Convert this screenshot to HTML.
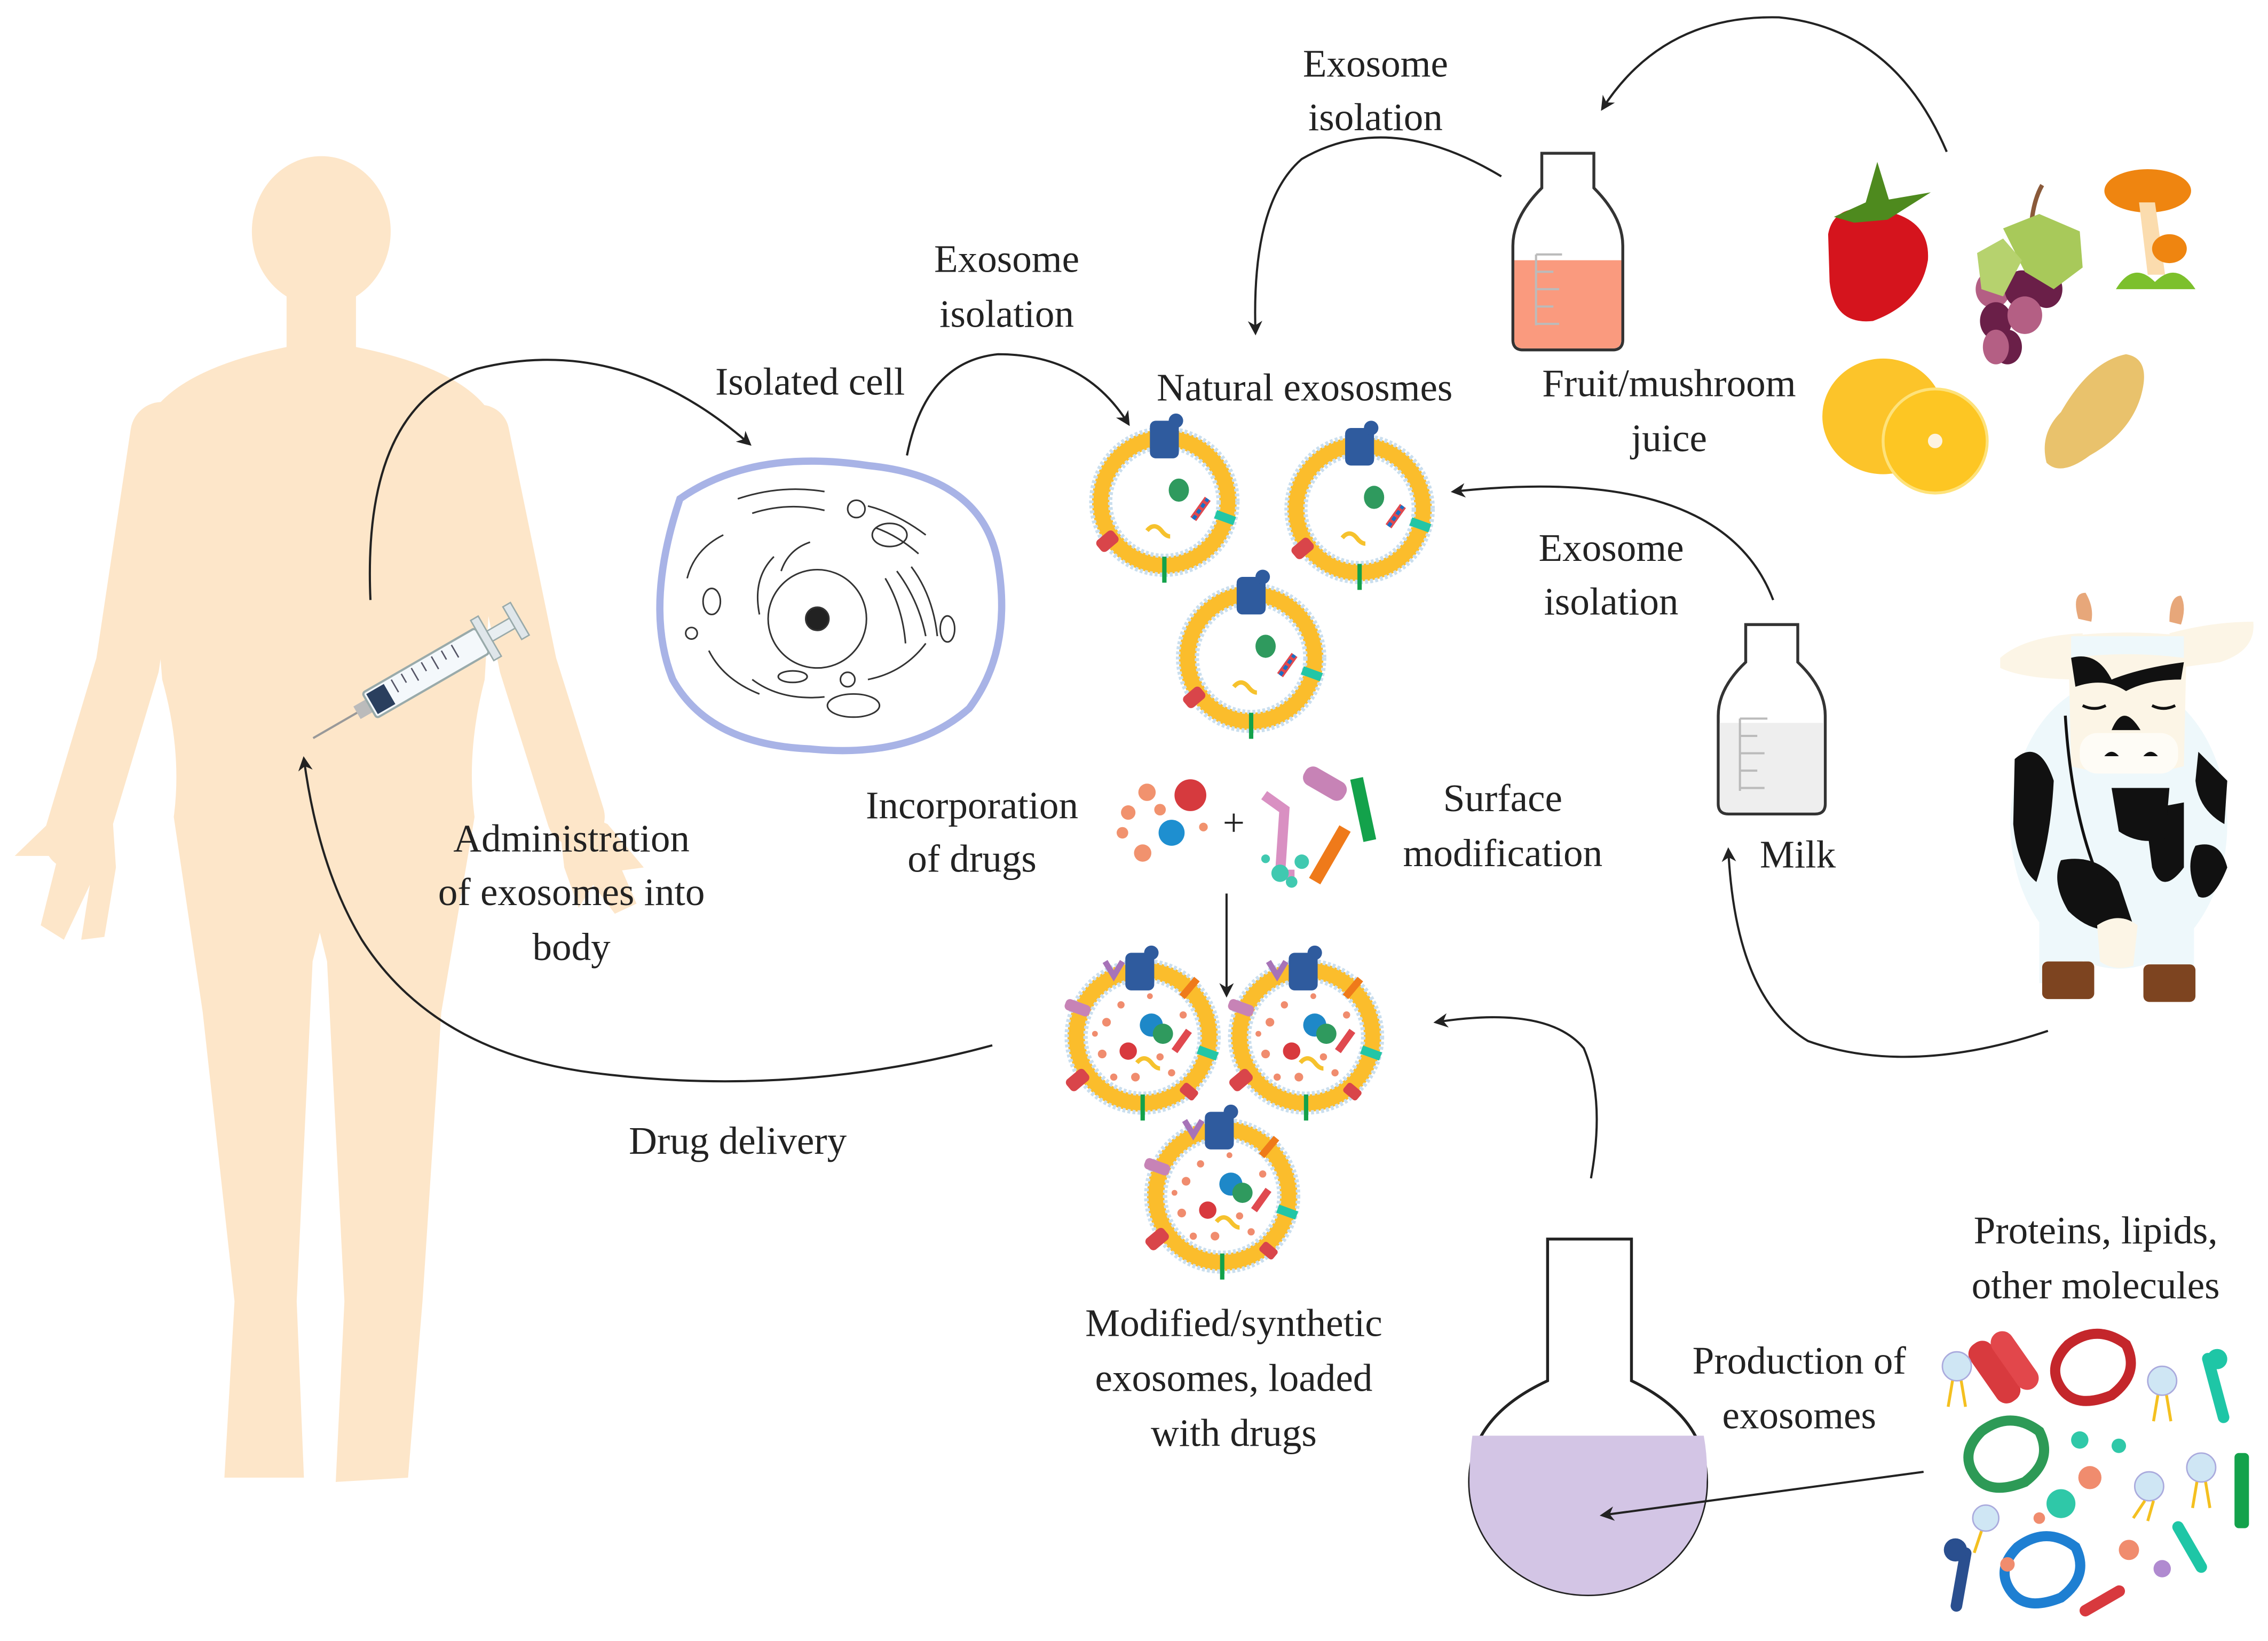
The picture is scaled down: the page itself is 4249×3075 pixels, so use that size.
<!DOCTYPE html>
<html><head><meta charset="utf-8">
<style>
html,body{margin:0;padding:0;background:#fff;}
svg{display:block;}
text{font-family:"Liberation Serif",serif;font-size:27px;fill:#222;text-anchor:middle;}
</style></head>
<body>
<svg width="4249" height="3075" viewBox="0 0 1568 1135" xmlns="http://www.w3.org/2000/svg">
<defs>
<marker id="ah" markerWidth="10" markerHeight="10" refX="8" refY="5" orient="auto" markerUnits="userSpaceOnUse">
<path d="M0,0 L10,5 L0,10 L3,5 Z" fill="#222"/>
</marker>
<g id="exo">
<circle r="44" fill="#fff" stroke="#fbbd2c" stroke-width="12"/>
<circle r="50.5" fill="none" stroke="#c9deee" stroke-width="3" stroke-dasharray="2 1.5"/>
<circle r="37.5" fill="none" stroke="#c9deee" stroke-width="3" stroke-dasharray="2 1.5"/>
<rect x="-10" y="-56" width="20" height="26" rx="4" fill="#2f5b9e"/>
<circle cx="8" cy="-56" r="5" fill="#2f5b9e"/>
<ellipse cx="10" cy="-8" rx="7" ry="8" fill="#2f9a5e"/>
<path d="M20,12 L30,-2" stroke="#e0494f" stroke-width="5"/>
<path d="M20,12 L30,-2" stroke="#1a6fc4" stroke-width="2.5" stroke-dasharray="3 2"/>
<path d="M-12,20 q5,-6 10,0 q3,4 6,4" stroke="#f6c22d" stroke-width="3" fill="none"/>
<rect x="35" y="8" width="14" height="6" fill="#22c6a6" transform="rotate(20 42 11)"/>
<rect x="-44" y="20" width="10" height="15" rx="3" fill="#d9454a" transform="rotate(50 -39 27)"/>
<rect x="-1.5" y="38" width="3" height="18" fill="#13a24b"/>
</g>
<g id="mexo">
<circle r="46" fill="#fff" stroke="#fbbd2c" stroke-width="12"/>
<circle r="52.5" fill="none" stroke="#c9deee" stroke-width="3" stroke-dasharray="2 1.5"/>
<circle r="39.5" fill="none" stroke="#c9deee" stroke-width="3" stroke-dasharray="2 1.5"/>
<rect x="-12" y="-58" width="20" height="26" rx="4" fill="#2f5b9e"/>
<circle cx="6" cy="-58" r="5" fill="#2f5b9e"/>
<circle cx="6" cy="-8" r="8" fill="#1e88c8"/>
<circle cx="14" cy="-2" r="7" fill="#2f9a5e"/>
<circle cx="-10" cy="10" r="6" fill="#d8393e"/>
<g fill="#f08c6e"><circle cx="-25" cy="-10" r="3"/><circle cx="-15" cy="-22" r="2.5"/><circle cx="-28" cy="12" r="3"/><circle cx="-5" cy="28" r="3"/><circle cx="20" cy="25" r="2.5"/><circle cx="-20" cy="28" r="2.5"/><circle cx="28" cy="-15" r="2.5"/><circle cx="5" cy="-28" r="2"/><circle cx="-33" cy="-2" r="2"/><circle cx="12" cy="14" r="2.5"/></g>
<path d="M22,10 L32,-4" stroke="#e0494f" stroke-width="5"/>
<path d="M-4,18 q5,-6 10,0 q3,4 6,4" stroke="#f6c22d" stroke-width="3" fill="none"/>
<rect x="38" y="8" width="14" height="6" fill="#22c6a6" transform="rotate(20 44 11)"/>
<rect x="-50" y="22" width="10" height="16" rx="3" fill="#d9454a" transform="rotate(50 -45 30)"/>
<rect x="-1.5" y="40" width="3" height="18" fill="#13a24b"/>
<rect x="-54" y="-24" width="18" height="8" rx="3" fill="#c783b6" transform="rotate(20 -45 -20)"/>
<rect x="30" y="-42" width="5" height="16" fill="#ef7a1a" transform="rotate(40 32 -34)"/>
<path d="M-26,-52 l6,10 l6,-10" stroke="#a773b8" stroke-width="4" fill="none"/>
<rect x="26" y="34" width="12" height="8" rx="2" fill="#d9454a" transform="rotate(40 32 38)"/>
</g>
</defs>

<!-- Human silhouette -->
<g fill="#fde6c9">
<ellipse cx="222" cy="160" rx="48" ry="52"/>
<rect x="198" y="195" width="48" height="60"/>
<path d="M98,300 Q110,258 198,240 L246,240 Q335,258 345,300 L335,470 Q322,520 328,565 L305,700 L292,900 L282,1022 L232,1025 L238,900 L226,665 L221,645 L216,665 L205,900 L210,1022 L155,1022 L162,900 L140,700 L120,565 Q126,520 112,470 Z"/>
<path d="M112,300 L88,460 L52,580" stroke="#fde6c9" stroke-width="44" stroke-linecap="round" fill="none"/>
<path d="M332,300 L365,460 L398,565" stroke="#fde6c9" stroke-width="40" stroke-linecap="round" fill="none"/>
<path d="M38,565 L10,592 L40,592 L28,640 L44,650 L62,612 L56,650 L72,648 L80,600 L78,570 Z"/>
<path d="M385,555 L420,570 L445,600 L430,602 L440,625 L425,632 L410,612 L400,628 L390,600 Z"/>
</g>

<!-- Syringe -->
<g transform="rotate(-30 290 468)">
<line x1="205" y1="468" x2="240" y2="468" stroke="#999" stroke-width="1.5"/>
<rect x="240" y="463" width="10" height="10" fill="#bbb"/>
<rect x="250" y="458" width="90" height="20" rx="2" fill="#f4f8fb" stroke="#9aa" stroke-width="1.5"/>
<rect x="252" y="460" width="14" height="16" fill="#2a3f5e"/>
<g stroke="#556" stroke-width="1"><line x1="272" y1="460" x2="272" y2="470"/><line x1="280" y1="460" x2="280" y2="467"/><line x1="288" y1="460" x2="288" y2="470"/><line x1="296" y1="460" x2="296" y2="467"/><line x1="304" y1="460" x2="304" y2="470"/><line x1="312" y1="460" x2="312" y2="467"/><line x1="320" y1="460" x2="320" y2="470"/></g>
<rect x="340" y="452" width="6" height="32" fill="#dfe6ea" stroke="#9aa"/>
<rect x="346" y="464" width="18" height="8" fill="#e8eef1" stroke="#9aa"/>
<rect x="364" y="455" width="6" height="26" fill="#dfe6ea" stroke="#9aa"/>
</g>

<!-- Cell -->
<path d="M470,345 Q520,310 600,322 Q680,330 690,390 Q700,450 670,490 Q630,525 560,518 Q490,515 465,470 Q445,420 470,345 Z" fill="#fff" stroke="#a8b3e6" stroke-width="5"/>
<g fill="none" stroke="#333" stroke-width="1.1">
<circle cx="565" cy="428" r="34"/>
<circle cx="565" cy="428" r="8" fill="#222"/>
<path d="M510,345 q30,-10 60,-5 M520,355 q25,-8 50,-2 M600,350 q20,5 40,20 M605,365 q15,5 30,18"/>
<path d="M620,395 q15,20 20,45 M630,392 q15,20 18,48 M612,400 q12,20 14,45"/>
<path d="M500,370 q-20,10 -25,30 M490,450 q10,20 35,30 M520,470 q20,15 50,12 M600,470 q25,-5 40,-25"/>
<ellipse cx="615" cy="370" rx="12" ry="8"/><ellipse cx="590" cy="488" rx="18" ry="8"/><ellipse cx="492" cy="416" rx="6" ry="9"/><ellipse cx="655" cy="435" rx="5" ry="9"/><circle cx="592" cy="352" r="6"/><circle cx="478" cy="438" r="4"/><ellipse cx="548" cy="468" rx="10" ry="4"/><circle cx="586" cy="470" r="5"/>
<path d="M535,385 q-15,15 -10,40 M540,395 q5,-15 20,-20"/>
</g>

<!-- Natural exosomes -->
<use href="#exo" x="805" y="347"/>
<use href="#exo" x="940" y="352"/>
<use href="#exo" x="865" y="455"/>

<!-- drugs -->
<g>
<circle cx="823" cy="550" r="11" fill="#d63a3e"/>
<circle cx="810" cy="576" r="9" fill="#1e8fd0"/>
<g fill="#f1926e"><circle cx="793" cy="548" r="6"/><circle cx="780" cy="562" r="5"/><circle cx="790" cy="590" r="6"/><circle cx="776" cy="576" r="4"/><circle cx="802" cy="560" r="4"/><circle cx="832" cy="572" r="3"/></g>
<rect x="900" y="535" width="32" height="14" rx="6" fill="#c783b6" transform="rotate(30 916 542)"/>
<path d="M874,550 L888,560 L885,605 L895,605" stroke="#d990c2" stroke-width="7" fill="none"/>
<rect x="938" y="538" width="9" height="44" fill="#13a24b" transform="rotate(-12 942 560)"/>
<rect x="915" y="570" width="9" height="42" fill="#ef7a1a" transform="rotate(30 919 591)"/>
<g fill="#40c9b0"><circle cx="885" cy="604" r="6"/><circle cx="900" cy="596" r="5"/><circle cx="875" cy="594" r="3"/><circle cx="893" cy="610" r="4"/></g>
</g>

<!-- Modified exosomes -->
<use href="#mexo" x="790" y="717"/>
<use href="#mexo" x="903" y="717"/>
<use href="#mexo" x="845" y="827"/>

<!-- Fruit juice bottle -->
<path d="M1066,106 L1102,106 L1102,130 Q1122,150 1122,170 L1122,235 Q1122,242 1115,242 L1053,242 Q1046,242 1046,235 L1046,170 Q1046,150 1066,130 Z" fill="#fff" stroke="#333" stroke-width="2"/>
<path d="M1047,180 L1121,180 L1121,235 Q1121,241 1115,241 L1053,241 Q1047,241 1047,235 Z" fill="#fa9a7e"/>
<g stroke="#bbb" stroke-width="1.5"><line x1="1062" y1="176" x2="1062" y2="225"/><line x1="1062" y1="176" x2="1080" y2="176"/><line x1="1062" y1="188" x2="1074" y2="188"/><line x1="1062" y1="200" x2="1078" y2="200"/><line x1="1062" y1="212" x2="1074" y2="212"/><line x1="1062" y1="224" x2="1078" y2="224"/></g>

<!-- Milk bottle -->
<path d="M1207,432 L1243,432 L1243,458 Q1262,476 1262,495 L1262,556 Q1262,563 1255,563 L1195,563 Q1188,563 1188,556 L1188,495 Q1188,476 1207,458 Z" fill="#fff" stroke="#333" stroke-width="2"/>
<path d="M1189,500 L1261,500 L1261,556 Q1261,562 1255,562 L1195,562 Q1189,562 1189,556 Z" fill="#eeeeee"/>
<g stroke="#bbb" stroke-width="1.5"><line x1="1203" y1="497" x2="1203" y2="547"/><line x1="1203" y1="497" x2="1222" y2="497"/><line x1="1203" y1="509" x2="1215" y2="509"/><line x1="1203" y1="521" x2="1220" y2="521"/><line x1="1203" y1="533" x2="1215" y2="533"/><line x1="1203" y1="545" x2="1220" y2="545"/></g>

<!-- Flask -->
<path d="M1070,857 L1128,857 L1128,955 Q1180,980 1180,1025 A82,78 0 1 1 1016,1025 Q1016,980 1070,955 Z" fill="#fff" stroke="#222" stroke-width="2"/>
<path d="M1018,993 L1178,993 Q1181,1010 1180,1025 A82,78 0 1 1 1016,1025 Q1016,1008 1018,993 Z" fill="#d3c5e5"/>

<!-- Fruits -->
<path d="M1264,162 Q1268,140 1298,145 Q1335,150 1333,180 Q1328,210 1295,222 Q1268,225 1265,195 Z" fill="#d5141d"/>
<path d="M1268,150 L1290,140 L1298,112 L1306,138 L1335,133 L1305,152 L1282,154 Z" fill="#4e8a1e"/>
<g>
<ellipse cx="1378" cy="200" rx="12" ry="13" fill="#b45f84"/>
<ellipse cx="1398" cy="200" rx="12" ry="13" fill="#6a1f48"/>
<ellipse cx="1415" cy="200" rx="11" ry="13" fill="#6a1f48"/>
<ellipse cx="1380" cy="222" rx="11" ry="13" fill="#6a1f48"/>
<ellipse cx="1400" cy="218" rx="12" ry="13" fill="#b45f84"/>
<ellipse cx="1388" cy="240" rx="10" ry="12" fill="#6a1f48"/>
<ellipse cx="1380" cy="240" rx="9" ry="12" fill="#b45f84"/>
<path d="M1404,162 Q1405,140 1412,128" stroke="#8a5a3a" stroke-width="3" fill="none"/>
<path d="M1385,158 L1410,148 L1438,160 L1440,185 L1420,200 L1400,188 Z" fill="#a8c95a"/>
<path d="M1367,175 L1385,165 L1398,180 L1385,205 L1370,200 Z" fill="#b6d26e"/>
</g>
<ellipse cx="1485" cy="132" rx="30" ry="15" fill="#ef8510"/>
<path d="M1479,140 L1490,140 L1497,190 L1485,190 Z" fill="#fbdcae"/>
<ellipse cx="1500" cy="172" rx="12" ry="10" fill="#ef8510"/>
<path d="M1463,200 Q1475,180 1490,195 Q1505,180 1518,200 Z" fill="#7cc02c"/>
<ellipse cx="1302" cy="288" rx="42" ry="40" fill="#fcc42a"/>
<circle cx="1338" cy="305" r="36" fill="#fdc623" stroke="#fee27a" stroke-width="2"/>
<circle cx="1338" cy="305" r="5" fill="#fdf3e0"/>
<path d="M1425,285 Q1445,250 1470,245 Q1488,248 1480,275 Q1472,300 1445,315 Q1425,330 1415,320 Q1410,300 1425,285 Z" fill="#e9c26c"/>

<!-- Cow -->
<g>
<path d="M1437,428 Q1432,410 1442,410 Q1448,420 1446,430 Z" fill="#e7a77a"/>
<path d="M1500,430 Q1500,412 1508,412 Q1512,420 1508,432 Z" fill="#e7a77a"/>
<path d="M1383,455 Q1400,440 1440,438 L1440,470 Q1400,470 1383,462 Z" fill="#fcf5e6"/>
<path d="M1500,438 Q1530,430 1558,430 Q1560,450 1535,458 L1505,462 Z" fill="#fcf5e6"/>
<ellipse cx="1465" cy="570" rx="75" ry="100" fill="#eef8fb"/>
<rect x="1410" y="630" width="30" height="50" fill="#eef8fb"/>
<rect x="1487" y="630" width="30" height="50" fill="#eef8fb"/>
<rect x="1412" y="665" width="36" height="26" rx="4" fill="#7d4420"/>
<rect x="1482" y="667" width="36" height="26" rx="4" fill="#7d4420"/>
<path d="M1393,525 Q1410,510 1420,540 Q1418,580 1408,610 Q1395,600 1392,570 Z" fill="#111"/>
<path d="M1425,595 Q1450,590 1465,610 L1475,640 Q1450,650 1430,630 Q1418,610 1425,595 Z" fill="#111"/>
<path d="M1483,560 L1510,555 L1510,600 Q1495,620 1488,600 Z" fill="#111"/>
<path d="M1520,520 L1540,540 L1538,570 Q1520,560 1518,540 Z" fill="#111"/>
<path d="M1518,585 Q1535,580 1540,600 Q1530,625 1520,620 Q1510,600 1518,585 Z" fill="#111"/>
<path d="M1460,545 L1500,545 L1497,580 Q1480,585 1465,575 Z" fill="#111"/>
<path d="M1430,440 Q1470,435 1512,440 L1510,530 Q1470,540 1432,530 Z" fill="#fcf5e6"/>
<path d="M1432,440 L1510,440 L1510,455 Q1470,450 1432,455 Z" fill="#eef8fb"/>
<path d="M1432,455 Q1450,450 1460,470 Q1480,462 1510,458 L1508,470 Q1485,470 1470,478 Q1455,468 1435,475 Z" fill="#111"/>
<path d="M1460,505 Q1468,485 1480,505 Z" fill="#111"/>
<path d="M1440,488 q8,4 16,0 M1488,488 q8,4 16,0" stroke="#111" stroke-width="2" fill="none"/>
<rect x="1438" y="507" width="68" height="28" rx="12" fill="#fefcf6"/>
<path d="M1455,523 q5,-6 10,0 Z M1482,523 q5,-6 10,0 Z" fill="#111"/>
<path d="M1428,495 Q1432,560 1450,605" stroke="#111" stroke-width="2" fill="none"/>
<path d="M1450,640 Q1465,630 1478,640 L1475,668 Q1462,672 1452,665 Z" fill="#fcf5e6"/>
</g>

<!-- Molecules -->
<g>
<rect x="1370" y="925" width="18" height="48" rx="8" fill="#d83a3e" transform="rotate(-35 1379 949)"/>
<rect x="1385" y="918" width="16" height="46" rx="8" fill="#e2474b" transform="rotate(-35 1393 941)"/>
<path d="M1430,930 q20,-15 40,0 q10,20 -10,35 q-25,10 -35,-5 q-10,-15 5,-30 Z" fill="none" stroke="#c4262b" stroke-width="7"/>
<path d="M1370,990 q20,-15 40,0 q10,20 -10,35 q-25,10 -35,-5 q-10,-15 5,-30 Z" fill="none" stroke="#2d9a56" stroke-width="7"/>
<path d="M1395,1070 q20,-15 40,0 q10,20 -10,35 q-25,10 -35,-5 q-10,-15 5,-30 Z" fill="none" stroke="#1e7fd2" stroke-width="7"/>
<g fill="#cfe6f4" stroke="#aad" stroke-width="1"><circle cx="1353" cy="945" r="10"/><circle cx="1495" cy="955" r="10"/><circle cx="1486" cy="1028" r="10"/><circle cx="1522" cy="1015" r="10"/><circle cx="1373" cy="1050" r="9"/></g>
<g stroke="#f4c020" stroke-width="2" fill="none"><path d="M1350,955 l-3,18 M1356,955 l3,18 M1492,965 l-3,18 M1498,965 l3,18 M1483,1038 l-8,12 M1489,1038 l-4,14 M1519,1025 l-3,18 M1525,1025 l3,18 M1370,1059 l-5,15"/></g>
<rect x="1528" y="935" width="8" height="50" rx="4" fill="#1ec6a6" transform="rotate(-15 1532 960)"/>
<circle cx="1533" cy="940" r="7" fill="#1ec6a6"/>
<rect x="1545" y="1005" width="10" height="52" rx="3" fill="#13a24b"/>
<rect x="1352" y="1070" width="8" height="45" rx="4" fill="#2a4f8f" transform="rotate(10 1356 1092)"/>
<circle cx="1352" cy="1072" r="8" fill="#2a4f8f"/>
<rect x="1450" y="1090" width="8" height="35" rx="4" fill="#d8393e" transform="rotate(60 1454 1107)"/>
<rect x="1510" y="1050" width="8" height="40" rx="4" fill="#1ec6a6" transform="rotate(-30 1514 1070)"/>
<g fill="#f08c6e"><circle cx="1445" cy="1022" r="8"/><circle cx="1472" cy="1072" r="7"/><circle cx="1388" cy="1082" r="5"/><circle cx="1410" cy="1050" r="4"/></g>
<g fill="#2fc8a8"><circle cx="1438" cy="996" r="6"/><circle cx="1465" cy="1000" r="5"/><circle cx="1425" cy="1040" r="10"/></g>
<circle cx="1495" cy="1085" r="6" fill="#b08ad0"/>
</g>

<!-- Arrows -->
<g fill="none" stroke="#222" stroke-width="1.5" marker-end="url(#ah)">
<path d="M1346,105 Q1310,20 1230,12 Q1150,10 1108,75"/>
<path d="M1038,122 Q960,75 900,110 Q865,140 868,230"/>
<path d="M627,315 Q640,250 690,245 Q750,245 780,293"/>
<path d="M256,415 Q250,280 330,255 Q430,230 518,307"/>
<path d="M1226,415 Q1190,320 1005,340"/>
<path d="M1416,713 Q1320,745 1250,720 Q1200,690 1195,588"/>
<path d="M848,618 L848,688"/>
<path d="M1100,815 Q1110,760 1095,725 Q1070,695 993,707"/>
<path d="M686,723 Q550,760 410,742 Q300,728 250,650 Q220,600 210,525"/>
<path d="M1330,1018 L1108,1048"/>
</g>

<!-- Labels -->
<text x="951" y="53">Exosome</text><text x="951" y="90">isolation</text>
<text x="696" y="188">Exosome</text><text x="696" y="226">isolation</text>
<text x="560" y="273">Isolated cell</text>
<text x="902" y="277">Natural exososmes</text>
<text x="1154" y="274">Fruit/mushroom</text><text x="1154" y="312">juice</text>
<text x="1114" y="388">Exosome</text><text x="1114" y="425">isolation</text>
<text x="672" y="566">Incorporation</text><text x="672" y="603">of drugs</text>
<text x="853" y="578">+</text>
<text x="1039" y="561">Surface</text><text x="1039" y="599">modification</text>
<text x="1243" y="600">Milk</text>
<text x="395" y="589">Administration</text><text x="395" y="626">of exosomes into</text><text x="395" y="664">body</text>
<text x="510" y="798">Drug delivery</text>
<text x="853" y="924">Modified/synthetic</text><text x="853" y="962">exosomes, loaded</text><text x="853" y="1000">with drugs</text>
<text x="1244" y="950">Production of</text><text x="1244" y="988">exosomes</text>
<text x="1449" y="860">Proteins, lipids,</text><text x="1449" y="898">other molecules</text>
</svg>
</body></html>
